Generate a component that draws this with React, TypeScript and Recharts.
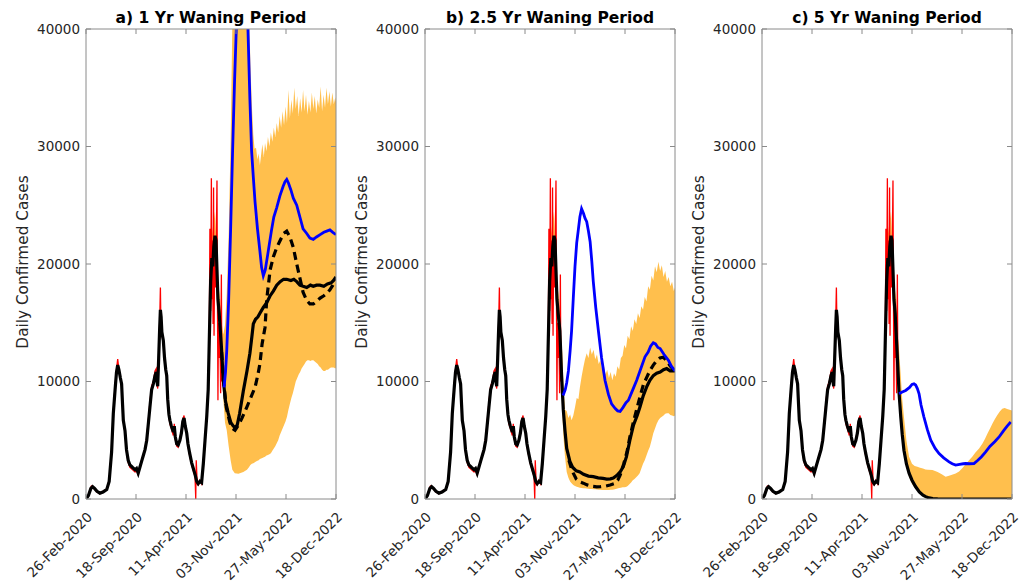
import { ComposedChart, Line, Area, XAxis, YAxis } from 'recharts';

// x axis is days since 26-Feb-2020
const DAY_TICKS = [0, 205, 410, 615, 820, 1025];
const DATE_LABELS = ['26-Feb-2020', '18-Sep-2020', '11-Apr-2021', '03-Nov-2021', '27-May-2022', '18-Dec-2022'];
const CASE_TICKS = [0, 10000, 20000, 30000, 40000];
const TITLES = ['a) 1 Yr Waning Period', 'b) 2.5 Yr Waning Period', 'c) 5 Yr Waning Period'];

type Pt = [number, number];
type BandPt = [number, number, number];

// reported daily cases [day, cases]
const OBSERVED: Pt[] = [
  [0, 0], [8, 200], [15, 700], [22, 1100], [27, 1000], [35, 850], [45, 600], [57, 450], [70, 650],
  [85, 850], [95, 1600], [105, 4200], [112, 7500], [120, 9800], [126, 11200], [130, 11900],
  [135, 11000], [141, 10200], [146, 9600], [150, 7800], [153, 6600], [160, 5600], [166, 4000],
  [173, 3100], [180, 2700], [190, 2500], [201, 2300], [207, 2500], [214, 2000], [221, 2800],
  [228, 3300], [235, 3800], [242, 4300], [249, 5200], [256, 6800], [262, 8200], [269, 9600],
  [276, 10000], [283, 10900], [288, 11100], [291, 9800], [294, 9400], [298, 12200], [302, 15000],
  [305, 18000], [307, 15000], [311, 14000], [317, 13300], [322, 11800], [327, 10800], [331, 10300],
  [335, 8200], [340, 7000], [344, 6400], [350, 6000], [358, 5400], [362, 6400], [366, 5100],
  [372, 4500], [378, 4400], [385, 5100], [391, 5800], [397, 6800], [402, 7100], [407, 6000],
  [413, 5500], [418, 4500], [425, 3700], [433, 2900], [440, 2400], [447, 1900], [450, 0],
  [452, 3300], [456, 1300], [460, 1200], [467, 1600], [474, 1300], [481, 3200], [488, 5200],
  [495, 7200], [501, 9500], [505, 12000], [508, 23000], [511, 16000], [514, 27300], [516, 17000],
  [518, 22000], [521, 14900], [523, 26500], [525, 13900], [528, 22000], [531, 18000], [534, 21000],
  [537, 27100], [539, 17000], [541, 8400], [543, 15000], [546, 12000], [549, 14500], [552, 9000],
  [555, 19100], [557, 10000],
];

// model fit over the reported period, shared by all panels
const FIT_COMMON: Pt[] = [
  [0, 0], [10, 300], [20, 900], [27, 1050], [35, 900], [45, 650], [57, 500], [70, 600], [85, 800],
  [95, 1500], [105, 4000], [112, 7300], [120, 9500], [125, 10800], [130, 11400], [135, 11000],
  [141, 10300], [146, 9800], [150, 8000], [153, 6700], [160, 5800], [166, 4200], [173, 3300],
  [180, 2900], [190, 2700], [201, 2500], [207, 2600], [214, 2200], [221, 2700], [228, 3200],
  [235, 3700], [242, 4200], [249, 5000], [256, 6500], [262, 7800], [269, 9300], [276, 9800],
  [283, 10500], [288, 10800], [291, 10000], [294, 9600], [298, 12000], [302, 14500], [305, 16100],
  [308, 15500], [311, 14200], [317, 13500], [322, 12000], [327, 11000], [331, 10500], [335, 8500],
  [340, 7200], [344, 6700], [350, 6200], [358, 5700], [362, 6200], [366, 5300], [372, 4700],
  [378, 4600], [385, 5000], [391, 5600], [397, 6600], [402, 6900], [407, 6200], [413, 5600],
  [418, 4700], [425, 3900], [433, 3100], [440, 2600], [447, 2100], [454, 1500], [460, 1300],
  [467, 1500], [474, 1400], [481, 3000], [488, 5000], [495, 7000], [501, 9300], [506, 14000],
  [511, 18500], [516, 20500], [520, 19800], [524, 21500], [529, 22400], [533, 22000],
  [537, 19500], [541, 17000], [546, 15800],
];

// panel a: 1 yr waning
const A_FIT: Pt[] = [
  [555, 13000], [563, 10100], [572, 8300], [583, 7300], [594, 6500], [604, 6200], [612, 6100],
  [620, 6300], [630, 7300], [645, 9200], [660, 10900], [672, 12400], [680, 13800], [686, 14900],
  [695, 15300], [705, 15500], [713, 15800], [727, 16300], [741, 16700], [755, 17300], [768, 17700],
  [782, 18200], [796, 18500], [810, 18700], [823, 18700], [840, 18600], [852, 18700], [864, 18500],
  [877, 18200], [890, 18100], [905, 18000], [920, 18200], [932, 18100], [945, 18200], [959, 18200],
  [975, 18100], [990, 18300], [1005, 18400], [1015, 18600], [1025, 18900],
];
const A_DASH: Pt[] = [
  [556, 12500], [565, 9800], [575, 7800], [590, 6500], [600, 6000], [611, 5850], [625, 6300],
  [640, 6900], [659, 7800], [675, 8600], [693, 9500], [705, 10600], [713, 11500], [722, 13200],
  [734, 14600], [741, 17000], [755, 19500], [768, 20600], [782, 21400], [796, 22000], [810, 22600],
  [823, 22800], [836, 22300], [850, 21400], [864, 20000], [877, 18800], [890, 17600], [905, 16900],
  [918, 16600], [932, 16600], [945, 16800], [960, 17100], [975, 17300], [987, 17500], [1000, 17800],
  [1012, 18200], [1025, 18700],
];
const A_BLUE: Pt[] = [
  [566, 9500], [572, 10800], [577, 12600], [585, 17000], [593, 23000], [601, 29600], [609, 35500],
  [617, 40500], [627, 46000], [640, 50000], [652, 47000], [664, 40000], [672, 34000], [679, 29600],
  [686, 27400], [693, 25300], [703, 23000], [713, 21100], [720, 19700], [727, 19000], [735, 19500],
  [745, 20800], [760, 22800], [770, 24000], [782, 24800], [795, 25800], [808, 26600], [816, 27000],
  [823, 27200], [830, 26900], [840, 26300], [850, 25600], [864, 25000], [877, 24000], [890, 23000],
  [905, 22600], [918, 22200], [932, 22100], [945, 22300], [960, 22500], [975, 22700], [987, 22800],
  [1000, 22900], [1012, 22700], [1025, 22500],
];
const A_BAND: BandPt[] = [
  [505, 12000, 14500], [516, 19000, 22500], [529, 21000, 24500], [541, 15500, 18500],
  [550, 14500, 17000], [556, 11500, 15000], [563, 8500, 14000], [570, 6500, 14800],
  [577, 5850, 17500], [585, 4500, 22500], [593, 3300, 30500], [600, 2500, 40500],
  [610, 2200, 52000], [625, 2150, 60000], [645, 2300, 62000], [660, 2500, 50000],
  [668, 2700, 42000], [674, 2900, 37000], [680, 3000, 33500], [686, 3050, 31000],
  [691, 3100, 29800], [697, 3200, 29900], [703, 3250, 28900], [708, 3300, 29400],
  [713, 3400, 28400], [718, 3450, 29300], [723, 3500, 30200], [729, 3550, 29100],
  [734, 3600, 30300], [740, 3700, 29600], [746, 3750, 30800], [752, 3800, 30000],
  [758, 3900, 31200], [764, 4100, 30400], [770, 4300, 31600], [776, 4500, 30800],
  [782, 4750, 32000], [788, 5000, 31200], [794, 5400, 32600], [800, 5700, 31600],
  [806, 6000, 33000], [812, 6300, 31800], [818, 6600, 33400], [824, 7000, 32000],
  [830, 7600, 34800], [836, 8100, 32400], [842, 8600, 34000], [848, 9000, 32800],
  [854, 9500, 35000], [860, 10000, 33200], [866, 10300, 34300], [872, 10600, 32600],
  [878, 10800, 34100], [884, 11100, 32900], [890, 11300, 34800], [896, 11500, 33000],
  [902, 11700, 34400], [908, 11800, 32700], [914, 11800, 33900], [920, 11750, 32900],
  [926, 11800, 34600], [932, 11800, 33200], [938, 11700, 34300], [944, 11600, 32800],
  [950, 11500, 34000], [956, 11300, 33300], [962, 11200, 35100], [968, 11000, 33000],
  [974, 10900, 34400], [980, 10900, 33300], [986, 11000, 35000], [992, 11000, 33600],
  [998, 11100, 34700], [1004, 11200, 33400], [1010, 11200, 34600], [1016, 11200, 33600],
  [1022, 11100, 34200], [1025, 11200, 33800],
];

// panel b: 2.5 yr waning
const B_FIT: Pt[] = [
  [553, 14300], [560, 10500], [567, 7600], [574, 5800], [581, 4300], [594, 3200], [605, 2700],
  [620, 2400], [635, 2300], [650, 2100], [670, 1950], [690, 1900], [710, 1800], [730, 1750],
  [745, 1700], [760, 1720], [772, 1780], [786, 2000], [800, 2300], [813, 2750], [826, 3600],
  [840, 5000], [855, 6300], [870, 7100], [881, 7800], [895, 8800], [910, 9600], [922, 10100],
  [936, 10500], [950, 10700], [964, 10800], [978, 11000], [991, 11100], [1005, 10900], [1025, 10900],
];
const B_DASH: Pt[] = [
  [590, 3300], [600, 2600], [608, 2200], [620, 1700], [635, 1450], [649, 1350], [665, 1200],
  [685, 1080], [704, 1040], [720, 1050], [740, 1100], [759, 1190], [775, 1300], [790, 1600],
  [800, 2030], [815, 3000], [828, 4000], [840, 5280], [855, 6600], [870, 7800], [881, 8670],
  [895, 9700], [910, 10400], [922, 10930], [936, 11400], [950, 11780], [963, 12000], [977, 12060],
  [990, 11800], [1004, 11360], [1015, 11100], [1025, 11000],
];
const B_BLUE: Pt[] = [
  [566, 8800], [575, 9300], [581, 9900], [588, 10900], [595, 12600], [601, 14300], [608, 17100],
  [615, 19800], [622, 21800], [628, 22800], [635, 24000], [642, 24700], [650, 24300], [656, 23900],
  [663, 23600], [670, 22800], [677, 21900], [684, 20200], [690, 18500], [700, 16300], [711, 14300],
  [724, 12000], [738, 10100], [752, 8900], [765, 8100], [780, 7700], [790, 7500], [800, 7450],
  [812, 7800], [824, 8200], [834, 8400], [850, 9200], [868, 10100], [885, 11100], [902, 12100],
  [915, 12500], [925, 13000], [936, 13300], [945, 13200], [955, 12900], [964, 12800], [980, 12300],
  [998, 11800], [1010, 11300], [1025, 10900],
];
const B_BAND: BandPt[] = [
  [505, 12000, 14500], [516, 19000, 22500], [529, 21000, 24500], [541, 15500, 18500],
  [550, 14500, 17000], [556, 11500, 14500], [563, 7300, 12400], [568, 5200, 9500],
  [574, 3600, 7600], [581, 2300, 7500], [588, 1800, 6900], [595, 1500, 7200], [601, 1350, 6700],
  [608, 1200, 7100], [615, 1100, 7800], [622, 1050, 8600], [629, 1000, 8500], [635, 950, 9500],
  [642, 930, 10400], [649, 920, 11200], [656, 910, 11900], [663, 900, 12400], [670, 880, 12000],
  [677, 860, 12900], [684, 850, 12300], [691, 840, 12700], [698, 820, 11900], [705, 800, 12300],
  [712, 790, 11500], [719, 780, 11800], [726, 770, 11000], [733, 760, 11400], [740, 760, 10600],
  [747, 760, 11000], [754, 770, 10300], [761, 780, 10800], [768, 790, 10100], [775, 800, 10700],
  [782, 850, 10400], [789, 900, 11300], [796, 930, 11000], [803, 960, 12000], [810, 990, 12200],
  [817, 1010, 13100], [824, 1030, 12800], [831, 1100, 13900], [838, 1250, 13600],
  [845, 1400, 14700], [852, 1600, 14300], [859, 1700, 15300], [866, 1850, 14900],
  [873, 2000, 15800], [880, 2200, 15400], [887, 2600, 16400], [894, 3000, 16100],
  [901, 3300, 17200], [908, 3700, 16800], [915, 4100, 18100], [922, 4450, 17800],
  [929, 5000, 19000], [936, 5600, 18600], [943, 6000, 19800], [950, 6400, 19300],
  [957, 6700, 20200], [964, 6900, 19400], [971, 7000, 19900], [978, 7100, 18900],
  [985, 7250, 19400], [992, 7300, 18500], [999, 7300, 18900], [1006, 7150, 18100],
  [1013, 7100, 18500], [1020, 7050, 17700], [1025, 7100, 18000],
];

// panel c: 5 yr waning
const C_FIT: Pt[] = [
  [555, 12060], [562, 9000], [569, 6970], [575, 5500], [582, 4150], [592, 3000], [603, 2200],
  [615, 1600], [630, 1040], [645, 600], [660, 320], [671, 200], [685, 90], [700, 30], [720, 5],
  [750, 0], [1025, 0],
];
const C_BLUE: Pt[] = [
  [562, 8960], [575, 9100], [589, 9240], [605, 9500], [615, 9750], [623, 9800], [630, 9700],
  [637, 9400], [644, 8960], [652, 8000], [664, 6970], [678, 5900], [692, 5000], [710, 4300],
  [726, 3870], [745, 3500], [767, 3160], [780, 3000], [794, 2880], [810, 2950], [825, 3000],
  [835, 3020], [850, 3000], [869, 3020], [885, 3300], [900, 3600], [917, 4010], [935, 4500],
  [955, 4900], [972, 5280], [990, 5800], [1005, 6200], [1020, 6550],
];
const C_BAND: BandPt[] = [
  [505, 12000, 14500], [516, 19000, 22500], [529, 21000, 24500], [541, 15500, 18500],
  [550, 14500, 17000], [556, 11500, 14000], [562, 8600, 12630], [569, 6500, 10500],
  [575, 5000, 8500], [582, 3800, 6970], [592, 2700, 5000], [603, 1900, 3600], [615, 1300, 3000],
  [626, 950, 2800], [637, 700, 2740], [648, 450, 2650], [660, 250, 2600], [670, 140, 2520],
  [680, 80, 2500], [699, 20, 2460], [720, 0, 2300], [737, 0, 2100], [753, 0, 1890], [770, 0, 2000],
  [785, 0, 2100], [794, 0, 2170], [808, 0, 2350], [820, 0, 2600], [835, 0, 2950], [849, 0, 3300],
  [862, 0, 3600], [875, 0, 3950], [890, 0, 4300], [904, 0, 4720], [915, 0, 5150], [925, 0, 5600],
  [935, 0, 6000], [945, 0, 6420], [955, 0, 6800], [965, 0, 7150], [975, 0, 7450], [985, 0, 7690],
  [995, 0, 7750], [1005, 0, 7650], [1015, 0, 7600], [1025, 0, 7540],
];

const ORANGE = '#FFBF4D';
const AXIS = '#8a8a8a';
const TEXT = '#262626';
const FONT = '"DejaVu Sans", sans-serif';

// chart-local geometry
const Y_AXIS_W = 80;
const PLOT_W = 250;
const PLOT_TOP = 29;
const PLOT_BOTTOM = 499;
const PLOT_LEFTS = [86, 425, 762];

const toRows = (pts: Pt[]) => pts.map(([day, v]) => ({ day, v }));
const toBand = (pts: BandPt[]) => pts.map(([day, lo, hi]) => ({ day, range: [lo, hi] }));

function DateTick(props: any) {
  const { x, index } = props;
  const tx = x + 7;
  const ty = PLOT_BOTTOM + 19;
  return (
    <g>
      <line x1={x} x2={x} y1={PLOT_BOTTOM} y2={PLOT_BOTTOM - 5} stroke={AXIS} />
      <line x1={x} x2={x} y1={PLOT_TOP} y2={PLOT_TOP + 5} stroke={AXIS} />
      <text x={tx} y={ty} transform={`rotate(-45 ${tx} ${ty})`} textAnchor="end"
        fontSize={13.5} fontFamily={FONT} fill={TEXT}>
        {DATE_LABELS[index]}
      </text>
    </g>
  );
}

function CaseTick(props: any) {
  const { y, payload } = props;
  const l = Y_AXIS_W;
  const r = Y_AXIS_W + PLOT_W;
  return (
    <g>
      <line x1={l} x2={l + 5} y1={y} y2={y} stroke={AXIS} />
      <line x1={r} x2={r - 5} y1={y} y2={y} stroke={AXIS} />
      <text x={l - 6} y={y} dy="0.36em" textAnchor="end" fontSize={13.5} fontFamily={FONT} fill={TEXT}>
        {payload.value}
      </text>
    </g>
  );
}

interface PanelProps {
  idx: number;
  fitTail: Pt[];
  dashed?: Pt[];
  blue: Pt[];
  band: BandPt[];
}

function Panel({ idx, fitTail, dashed, blue, band }: PanelProps) {
  const plotLeft = PLOT_LEFTS[idx];
  const fit = toRows([...FIT_COMMON, ...fitTail]);
  return (
    <>
      <div style={{
        position: 'absolute', left: plotLeft, top: 9, width: PLOT_W, textAlign: 'center',
        fontFamily: FONT, fontWeight: 'bold', fontSize: 15.5, lineHeight: '18px', color: '#000',
      }}>
        {TITLES[idx]}
      </div>
      <div style={{
        position: 'absolute', left: plotLeft - 63 - 150, top: 262 - 10, width: 300, height: 20,
        lineHeight: '20px', textAlign: 'center', transform: 'rotate(-90deg)',
        fontFamily: FONT, fontSize: 15.3, color: TEXT,
      }}>
        Daily Confirmed Cases
      </div>
      <div style={{ position: 'absolute', left: plotLeft - Y_AXIS_W, top: 0 }}>
        <ComposedChart width={Y_AXIS_W + PLOT_W + 10} height={585}
          margin={{ top: PLOT_TOP, right: 10, bottom: 0, left: 0 }}>
          <XAxis dataKey="day" type="number" domain={[0, 1025]} ticks={DAY_TICKS} interval={0}
            allowDataOverflow height={585 - PLOT_BOTTOM} tick={DateTick} tickLine={false}
            axisLine={{ stroke: AXIS }} />
          <XAxis xAxisId="top" orientation="top" type="number" domain={[0, 1025]} mirror
            tick={false} tickLine={false} axisLine={{ stroke: AXIS }} />
          <YAxis type="number" domain={[0, 40000]} ticks={CASE_TICKS} interval={0} allowDataOverflow
            width={Y_AXIS_W} tick={CaseTick} tickLine={false} axisLine={{ stroke: AXIS }} />
          <YAxis yAxisId="right" orientation="right" type="number" domain={[0, 40000]} mirror
            tick={false} tickLine={false} axisLine={{ stroke: AXIS }} />
          <Area data={toBand(band)} dataKey="range" type="linear" fill={ORANGE} fillOpacity={1}
            stroke="none" isAnimationActive={false} />
          <Line data={toRows(OBSERVED)} dataKey="v" type="linear" stroke="#ff0000" strokeWidth={1.3}
            dot={false} isAnimationActive={false} />
          <Line data={fit} dataKey="v" type="linear" stroke="#000" strokeWidth={3.2}
            dot={false} isAnimationActive={false} />
          {dashed && (
            <Line data={toRows(dashed)} dataKey="v" type="linear" stroke="#000" strokeWidth={3.2}
              strokeDasharray="8 5" dot={false} isAnimationActive={false} />
          )}
          <Line data={toRows(blue)} dataKey="v" type="linear" stroke="#0000ff" strokeWidth={2.8}
            dot={false} isAnimationActive={false} />
        </ComposedChart>
      </div>
    </>
  );
}

export default function App() {
  return (
    <div style={{ position: 'absolute', left: 0, top: 0, width: 1026, height: 585, background: '#fff' }}>
      <Panel idx={0} fitTail={A_FIT} dashed={A_DASH} blue={A_BLUE} band={A_BAND} />
      <Panel idx={1} fitTail={B_FIT} dashed={B_DASH} blue={B_BLUE} band={B_BAND} />
      <Panel idx={2} fitTail={C_FIT} blue={C_BLUE} band={C_BAND} />
    </div>
  );
}
